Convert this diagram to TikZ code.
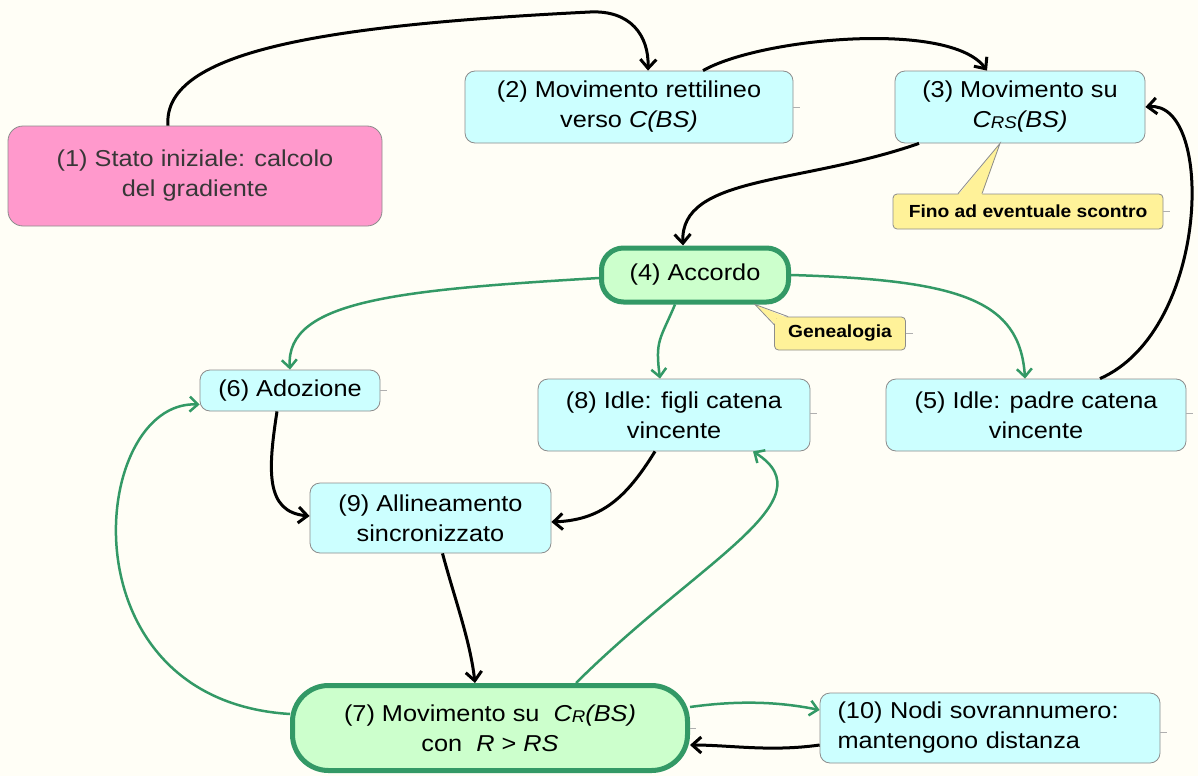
\documentclass[tikz,border=0pt]{standalone}
\usepackage{fontspec}
\setmainfont{Liberation Sans}[FakeStretch=1.1]
\usetikzlibrary{arrows.meta}

\definecolor{bgcol}{RGB}{255,254,246}
\definecolor{startpink}{RGB}{255,153,204}
\definecolor{statecyan}{RGB}{204,255,255}
\definecolor{keyfill}{RGB}{204,255,204}
\definecolor{keygreen}{RGB}{51,153,102}
\definecolor{notefill}{RGB}{255,242,153}
\definecolor{boxgray}{RGB}{140,140,140}
\definecolor{darktext}{RGB}{55,55,55}

\newcommand{\lowsub}[1]{\raisebox{-1pt}{\fontsize{17}{17}\selectfont #1}}

\tikzset{
	state/.style={draw=boxgray, line width=0.8pt, rounded corners=10pt, fill=statecyan, align=center, inner sep=0pt, font=\fontsize{23}{30}\selectfont},
	startstate/.style={state, fill=startpink, rounded corners=15pt, text=darktext},
	keystate/.style={state, draw=keygreen, line width=5pt, fill=keyfill, rounded corners=22pt},
	callout/.style={draw=boxgray, line width=0.8pt, rounded corners=4pt, fill=notefill, inner sep=0pt, font=\fontsize{17.5}{20}\bfseries\selectfont},
	edgetick/.style={draw=boxgray!70, line width=0.8pt},
	flow/.style={line width=3pt, -{Straight Barb[length=9pt,width=16pt]}},
	choice/.style={draw=keygreen, line width=2.5pt, -{Straight Barb[length=8pt,width=15pt]}}
}

\begin{document}
\begin{tikzpicture}[x=1pt,y=1pt]
	\fill[bgcol] (0,0) rectangle (1198,-776);
	\useasboundingbox (0,0) rectangle (1198,-776);

	\node[startstate, minimum width=374pt, minimum height=100pt] (n1) at (195,-176) {(1) Stato iniziale: calcolo\\del gradiente};
	\node[state, minimum width=328pt, minimum height=72pt] (n2) at (629,-107) {(2) Movimento rettilineo\\verso \textit{C(BS)}};
	\node[state, minimum width=250pt, minimum height=72pt] (n3) at (1020,-107) {(3) Movimento su\\\textit{C\lowsub{RS}(BS)}};
	\node[callout, minimum width=270pt, minimum height=35pt] (fino) at (1028,-211.5) {Fino ad eventuale scontro};
	\node[keystate, minimum width=187pt, minimum height=54pt] (n4) at (695,-275) {(4) Accordo};
	\node[callout, minimum width=131pt, minimum height=33pt] (gen) at (840,-333.5) {Genealogia};
	\node[state, minimum width=180pt, minimum height=41pt] (n6) at (290,-390.5) {(6) Adozione};
	\node[state, minimum width=272pt, minimum height=72pt] (n8) at (674,-415) {(8) Idle: figli catena\\vincente};
	\node[state, minimum width=300pt, minimum height=72pt] (n5) at (1036,-415) {(5) Idle: padre catena\\vincente};
	\node[state, minimum width=241pt, minimum height=70pt] (n9) at (430.5,-518) {(9) Allineamento\\sincronizzato};
	\node[keystate, minimum width=395pt, minimum height=85pt, rounded corners=36pt] (n7) at (490,-728) {(7) Movimento su\ \ \textit{C\lowsub{R}(BS)}\\con \ \textit{R} > \textit{RS}};
	\node[state, minimum width=340pt, minimum height=70pt, text width=305pt, align=left] (n10) at (990,-728) {(10) Nodi sovrannumero:\\mantengono distanza};

	\fill[notefill] ([xshift=-20pt]n3.south) -- ([xshift=-70pt,yshift=-1.5pt]fino.north) -- ([xshift=-46pt,yshift=-1.5pt]fino.north) -- cycle;
	\draw[boxgray, line width=0.8pt] ([xshift=-70pt]fino.north) -- ([xshift=-20pt]n3.south) -- ([xshift=-46pt]fino.north);
	\fill[notefill] ([xshift=60pt]n4.south) -- ([xshift=14pt,yshift=-1.5pt]gen.north west) -- ([xshift=2pt,yshift=-1.5pt]gen.north west) -- ([xshift=1.5pt,yshift=-8pt]gen.north west) -- cycle;
	\draw[boxgray, line width=0.8pt] ([xshift=14pt]gen.north west) -- ([xshift=60pt]n4.south) -- ([yshift=-8pt]gen.north west);

	\draw[edgetick] (n2.east) -- ++(7,0);
	\draw[edgetick] (n6.east) -- ++(7,0);
	\draw[edgetick] ([yshift=2pt]n8.east) -- ++(7,0);
	\draw[edgetick] ([yshift=2pt]n5.east) -- ++(7,0);
	\draw[edgetick] (fino.east) -- ++(7,0);
	\draw[edgetick] (gen.east) -- ++(7,0);
	\draw[edgetick] ([yshift=-4pt]n10.east) -- ++(7,0);
	\draw[edgetick] (n7.east) -- ++(6,0);

	\draw[flow] ([xshift=-27pt]n1.north) .. controls (162,-50) and (330,-25) .. (590,-12) .. controls (630,-10) and (649,-35) .. ([xshift=19pt]n2.north);
	\draw[flow] ([xshift=74pt]n2.north) .. controls (760,-38) and (950,-20) .. ([xshift=-33pt]n3.north);
	\draw[flow] ([xshift=-101pt]n3.south) .. controls (800,-185) and (680,-175) .. ([xshift=-12pt]n4.north);
	\draw[flow] ([xshift=64pt]n5.north) .. controls (1210,-330) and (1215,-100) .. (n3.east);
	\draw[flow] ([xshift=-13pt]n6.south) .. controls (268,-470) and (265,-512) .. ([yshift=2pt]n9.west);
	\draw[flow] ([xshift=-19pt]n8.south) .. controls (625,-500) and (600,-520) .. ([yshift=-4pt]n9.east);
	\draw[flow] ([xshift=12pt]n9.south) .. controls (455,-600) and (470,-640) .. ([xshift=-15pt]n7.north);
	\draw[flow] ([yshift=-17pt]n10.west) .. controls (770,-752) and (730,-745) .. ([yshift=-17pt]n7.east);

	\draw[choice] ([yshift=-3pt]n4.west) .. controls (400,-290) and (285,-300) .. (n6.north);
	\draw[choice] ([xshift=-20pt]n4.south) .. controls (660,-340) and (655,-340) .. ([xshift=-14pt]n8.north);
	\draw[choice] (n4.east) .. controls (960,-280) and (1020,-300) .. ([xshift=-11pt]n5.north);
	\draw[choice] ([yshift=14pt]n7.west) .. controls (60,-700) and (90,-400) .. ([yshift=-14pt]n6.west);
	\draw[choice] ([xshift=86pt]n7.north) .. controls (700,-560) and (830,-500) .. ([xshift=79pt]n8.south);
	\draw[choice] ([yshift=21pt]n7.east) .. controls (740,-700) and (780,-702) .. ([yshift=18pt]n10.west);
\end{tikzpicture}
\end{document}
